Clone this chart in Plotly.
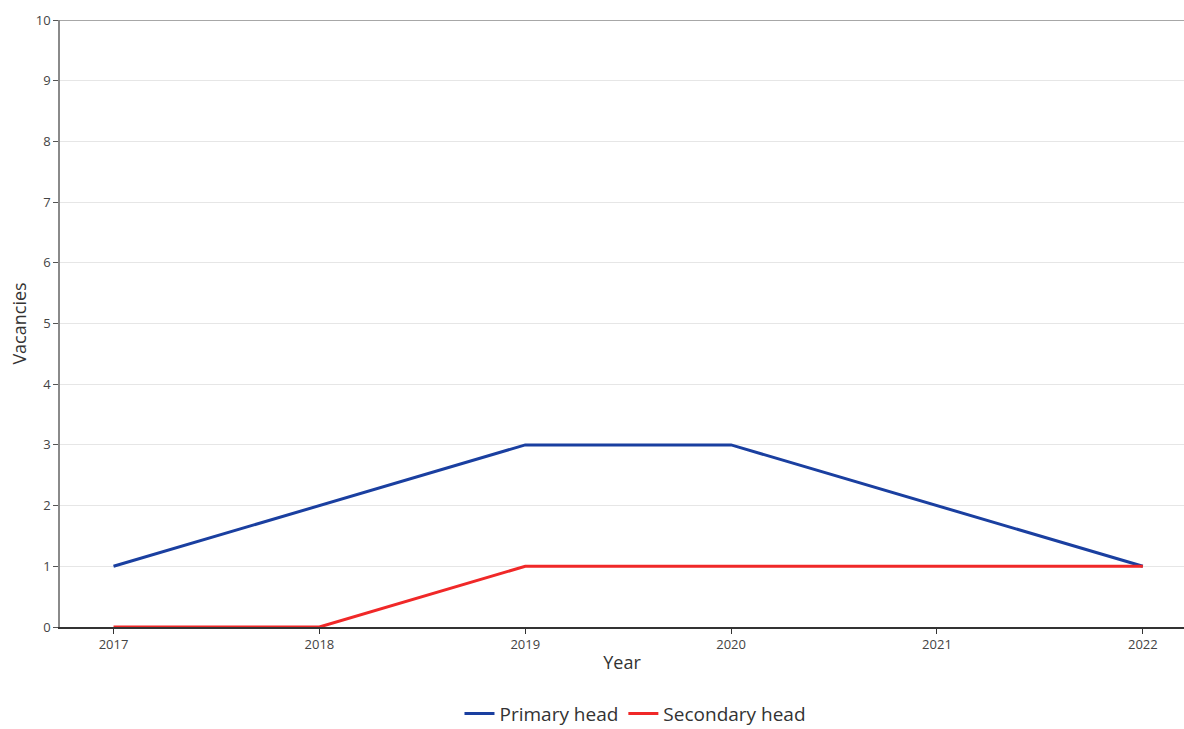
import plotly.graph_objects as go

years = [2017, 2018, 2019, 2020, 2021, 2022]
primary_head = [1, 2, 3, 3, 2, 1]
secondary_head = [0, 0, 1, 1, 1, 1]
y_ticks = list(range(0, 11))

fig = go.Figure()
fig.add_trace(go.Scatter(x=years, y=primary_head, mode="lines", name="Primary head",
                         line=dict(color="#1a3fa0", width=3)))
fig.add_trace(go.Scatter(x=years, y=secondary_head, mode="lines", name="Secondary head",
                         line=dict(color="#f02828", width=3)))

fig.add_shape(type="line", xref="paper", yref="y", x0=0, x1=1, y0=10, y1=10,
              line=dict(color="#8a8a8a", width=1.5), layer="above")

fig.update_layout(
    width=1184, height=729,
    margin=dict(l=60, r=0, t=20, b=102, autoexpand=False),
    paper_bgcolor="white", plot_bgcolor="white",
    font=dict(family="Open Sans", color="#444"),
    showlegend=True,
    legend=dict(orientation="h", x=0.512, xanchor="center",
                yref="container", y=0.021, yanchor="middle",
                font=dict(size=19, color="#333")),
    xaxis=dict(range=[2016.74, 2022.2], tickvals=years, ticktext=[str(y) for y in years],
               showgrid=False, showline=True, linecolor="#333", linewidth=1.5,
               ticks="outside", ticklen=5, tickcolor="#333", tickfont=dict(size=13),
               title=dict(text="Year", font=dict(size=18, color="#333"), standoff=4),
               zeroline=False),
    yaxis=dict(range=[0, 10], tickvals=y_ticks, showgrid=True, gridcolor="#e6e6e6",
               showline=True, linecolor="#8a8a8a", linewidth=1.5,
               ticks="outside", ticklen=5, tickcolor="#555", tickfont=dict(size=13),
               title=dict(text="Vacancies", font=dict(size=18, color="#333"), standoff=4),
               zeroline=False),
)

fig.write_html("out.html", config={"responsive": False, "displayModeBar": False},
               post_script="document.body.style.margin='0';document.body.style.overflow='hidden';")
